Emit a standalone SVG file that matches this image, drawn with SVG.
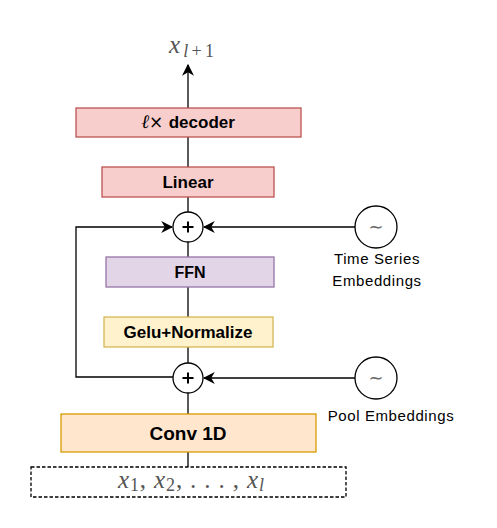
<svg xmlns="http://www.w3.org/2000/svg" width="497" height="528" viewBox="0 0 497 528">
<style>
.box{stroke-width:1.3}
.red{fill:#f8cecc;stroke:#b85450}
.lbl{font-family:"Liberation Sans",Arial,sans-serif;font-weight:bold;fill:#000;text-anchor:middle}
.txt{font-family:"Liberation Sans",Arial,sans-serif;font-size:15px;fill:#000;text-anchor:middle;letter-spacing:0.6px}
.math{font-family:"Liberation Serif","Times New Roman",serif;fill:#555}
.ln{stroke:#000;stroke-width:1.3;fill:none}
.pl{stroke:#000;stroke-width:2;fill:none}
.circ{fill:#fff;stroke:#000;stroke-width:1.3}
.tl{font-family:"DejaVu Sans",sans-serif;font-size:18px;fill:#666;text-anchor:middle}
</style>
<defs>
<marker id="arrB" viewBox="0 0 10 10" refX="9" refY="5" markerWidth="12" markerHeight="12" markerUnits="userSpaceOnUse" orient="auto">
<path d="M0,0 L10,5 L0,10 L3,5 Z" fill="#000"/>
</marker>
</defs>
<rect width="497" height="528" fill="#fff"/>
<g id="connectors">
<line class="ln" x1="188" y1="108" x2="188" y2="65" marker-end="url(#arrB)"/>
<line class="ln" x1="188" y1="137" x2="188" y2="167"/>
<line class="ln" x1="188" y1="197" x2="188" y2="212"/>
<line class="ln" x1="188" y1="242" x2="188" y2="257"/>
<line class="ln" x1="188" y1="287" x2="188" y2="317"/>
<line class="ln" x1="188" y1="347" x2="188" y2="363"/>
<line class="ln" x1="188" y1="393" x2="188" y2="414"/>
<line class="ln" x1="188" y1="452" x2="188" y2="467"/>
<polyline class="ln" points="173,377 76,377 76,227 172,227" marker-end="url(#arrB)"/>
<line class="ln" x1="355" y1="227" x2="204" y2="227" marker-end="url(#arrB)"/>
<line class="ln" x1="355" y1="378" x2="204" y2="378" marker-end="url(#arrB)"/>
</g>
<g id="out">
<text class="math" x="169" y="53" font-size="25" font-style="italic" textLength="45" lengthAdjust="spacing">x<tspan font-size="18" dy="4">l</tspan><tspan font-size="18" font-style="normal">+1</tspan></text>
</g>
<g id="decoder">
<rect class="box red" x="76" y="108" width="225" height="29"/>
<text class="lbl" x="188" y="128" font-size="17"><tspan font-family="'Liberation Serif',serif" font-weight="normal" font-style="italic" font-size="19">ℓ</tspan><tspan font-family="'DejaVu Sans',sans-serif" font-weight="normal">× </tspan>decoder</text>
</g>
<g id="linear">
<rect class="box red" x="102" y="167" width="172" height="30"/>
<text class="lbl" x="188" y="188" font-size="17">Linear</text>
</g>
<g id="plus1">
<circle class="circ" cx="188" cy="227" r="15"/>
<path class="pl" d="M182.5,227 H193.5 M188,221.5 V232.5"/>
</g>
<g id="ts">
<circle class="circ" cx="376" cy="227" r="21"/>
<text class="tl" x="376" y="233">∼</text>
<text class="txt" x="377" y="264">Time Series</text>
<text class="txt" x="377" y="286">Embeddings</text>
</g>
<g id="ffn">
<rect class="box" x="106" y="257" width="168" height="30" fill="#e1d5e7" stroke="#9673a6"/>
<text class="lbl" x="190" y="278" font-size="16">FFN</text>
</g>
<g id="gelu">
<rect class="box" x="104" y="317" width="169" height="30" fill="#fff2cc" stroke="#d6b656"/>
<text class="lbl" x="188" y="338" font-size="17">Gelu+Normalize</text>
</g>
<g id="plus2">
<circle class="circ" cx="188" cy="378" r="15"/>
<path class="pl" d="M182.5,378 H193.5 M188,372.5 V383.5"/>
</g>
<g id="pool">
<circle class="circ" cx="376" cy="378" r="21"/>
<text class="tl" x="376" y="384">∼</text>
<text class="txt" x="391" y="421">Pool Embeddings</text>
</g>
<g id="conv">
<rect class="box" x="61" y="414" width="255" height="38" fill="#ffe6cc" stroke="#d79b00"/>
<text class="lbl" x="188" y="440" font-size="19">Conv 1D</text>
</g>
<g id="input">
<rect x="31" y="467" width="315" height="30" fill="#fff" stroke="#000" stroke-width="1.3" stroke-dasharray="3.5,2"/>
<text class="math" x="118" y="488" font-size="25" textLength="146" lengthAdjust="spacing"><tspan font-style="italic">x</tspan><tspan font-size="18" dy="3">1</tspan><tspan dy="-3">, </tspan><tspan font-style="italic">x</tspan><tspan font-size="18" dy="3">2</tspan><tspan dy="-3">, . . . , </tspan><tspan font-style="italic">x</tspan><tspan font-size="18" font-style="italic" dy="3">l</tspan></text>
</g>
</svg>
